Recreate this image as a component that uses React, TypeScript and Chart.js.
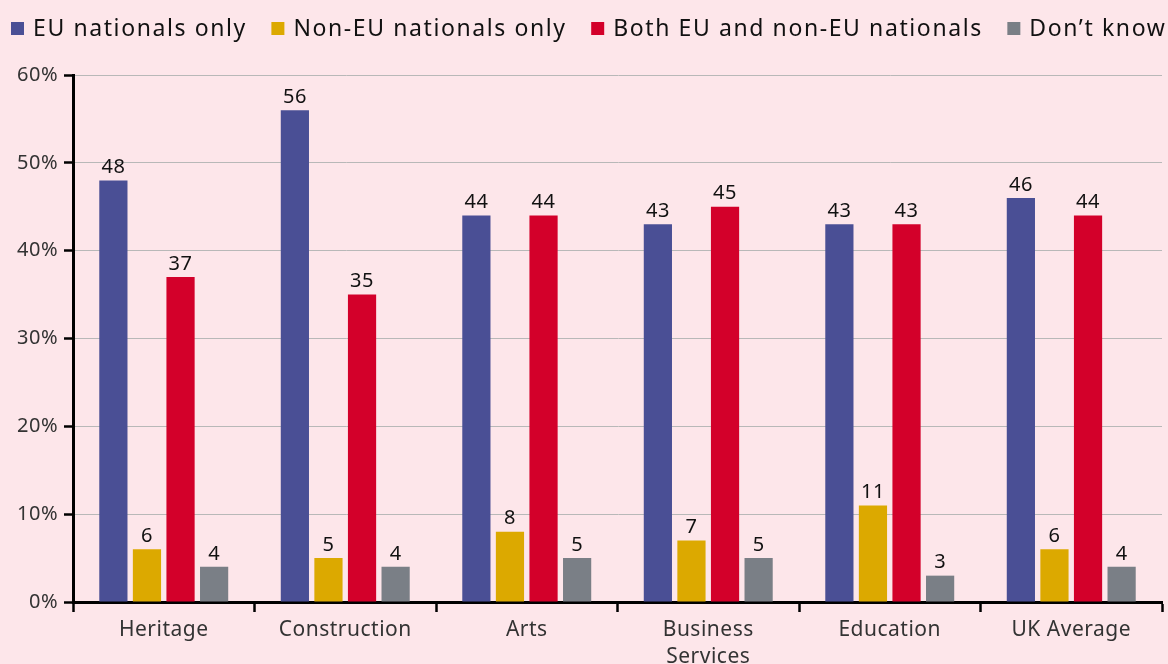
import React, { useEffect, useRef } from "react";
import { Chart, registerables } from "chart.js";

Chart.register(...registerables);

const categories: (string | string[])[] = ["Heritage", "Construction", "Arts", ["Business", "Services"], "Education", "UK Average"];
const seriesNames = ["EU nationals only", "Non-EU nationals only", "Both EU and non-EU nationals", "Don\u2019t know"];
const euOnly = [48, 56, 44, 43, 43, 46];
const nonEuOnly = [6, 5, 8, 7, 11, 6];
const bothEuNonEu = [37, 35, 44, 45, 43, 44];
const dontKnow = [4, 4, 5, 5, 3, 4];
const yTicks = [0, 10, 20, 30, 40, 50, 60];
const colors = ["#4a4f95", "#dca900", "#d3002a", "#7a7f86"];

const FONT = '"Noto Sans", "Open Sans", sans-serif';

const spacingPlugin = {
  id: "spacing",
  beforeLayout(chart: any) {
    chart.ctx.letterSpacing = "0.5px";
  },
  beforeDraw(chart: any) {
    chart.ctx.letterSpacing = "0.5px";
  },
};

const legendPlugin = {
  id: "customLegend",
  afterDraw(chart: any) {
    const ctx = chart.ctx;
    ctx.save();
    ctx.font = `23px ${FONT}`;
    ctx.letterSpacing = "1.6px";
    ctx.textBaseline = "middle";
    ctx.textAlign = "left";
    let x = 11;
    chart.data.datasets.forEach((ds: any) => {
      ctx.fillStyle = ds.backgroundColor;
      ctx.fillRect(x, 22, 13, 13);
      ctx.fillStyle = "#111";
      ctx.fillText(ds.label, x + 22, 29);
      x += 22 + ctx.measureText(ds.label).width + 24.5;
    });
    ctx.restore();
  },
};

const valueLabelPlugin = {
  id: "valueLabels",
  afterDatasetsDraw(chart: any) {
    const ctx = chart.ctx;
    ctx.save();
    ctx.font = `20px ${FONT}`;
    ctx.letterSpacing = "0.5px";
    ctx.fillStyle = "#111";
    ctx.textAlign = "center";
    ctx.textBaseline = "bottom";
    chart.data.datasets.forEach((ds: any, di: number) => {
      const meta = chart.getDatasetMeta(di);
      meta.data.forEach((bar: any, i: number) => {
        ctx.fillText(String(ds.data[i]), bar.x, bar.y - 3);
      });
    });
    ctx.restore();
  },
};

const bgPlugin = {
  id: "bg",
  beforeDraw(chart: any) {
    const ctx = chart.ctx;
    ctx.save();
    ctx.fillStyle = "#fde6ea";
    ctx.fillRect(0, 0, chart.width, chart.height);
    ctx.restore();
  },
};

export default function App() {
  const ref = useRef<HTMLCanvasElement | null>(null);
  useEffect(() => {
    document.body.style.margin = "0";
    document.body.style.background = "#fde6ea";
    const seriesData = [euOnly, nonEuOnly, bothEuNonEu, dontKnow];
    const chart = new Chart(ref.current!, {
      type: "bar",
      data: {
        labels: categories,
        datasets: seriesNames.map((name, i) => ({
          label: name,
          data: seriesData[i],
          backgroundColor: colors[i],
          borderWidth: 0,
          categoryPercentage: 0.74,
          barPercentage: 0.84,
        })),
      },
      options: {
        responsive: false,
        animation: false,
        maintainAspectRatio: false,
        layout: { padding: { top: 75, left: 8, right: 6, bottom: 0 } },
        plugins: {
          legend: { display: false },
          tooltip: { enabled: false },
        },
        scales: {
          x: {
            grid: {
              offset: true,
              drawOnChartArea: false,
              tickLength: 10,
              tickColor: "#000",
              tickWidth: 2.5,
            },
            border: { color: "#000", width: 3 },
            ticks: {
              color: "#333",
              font: { family: FONT, size: 21, lineHeight: 1.3 },
              padding: 4,
              maxRotation: 0,
              autoSkip: false,
            },
            afterFit(scale: any) {
              scale.height = 62;
            },
          },
          y: {
            min: 0,
            max: 60,
            afterBuildTicks(scale: any) {
              scale.ticks = yTicks.map((v) => ({ value: v }));
            },
            grid: {
              color: "#b8b8b8",
              lineWidth: 1,
              tickLength: 9,
              tickColor: "#000",
              tickWidth: 2.5,
            },
            border: { color: "#000", width: 3 },
            ticks: {
              color: "#333",
              font: { family: FONT, size: 20 },
              padding: 6,
              callback: (v: any) => `${v}%`,
            },
            afterFit(scale: any) {
              scale.width = 65;
            },
          },
        },
      },
      plugins: [spacingPlugin, bgPlugin, legendPlugin, valueLabelPlugin],
    });
    return () => chart.destroy();
  }, []);
  return <canvas ref={ref} width={1168} height={664} style={{ display: "block" }} />;
}
